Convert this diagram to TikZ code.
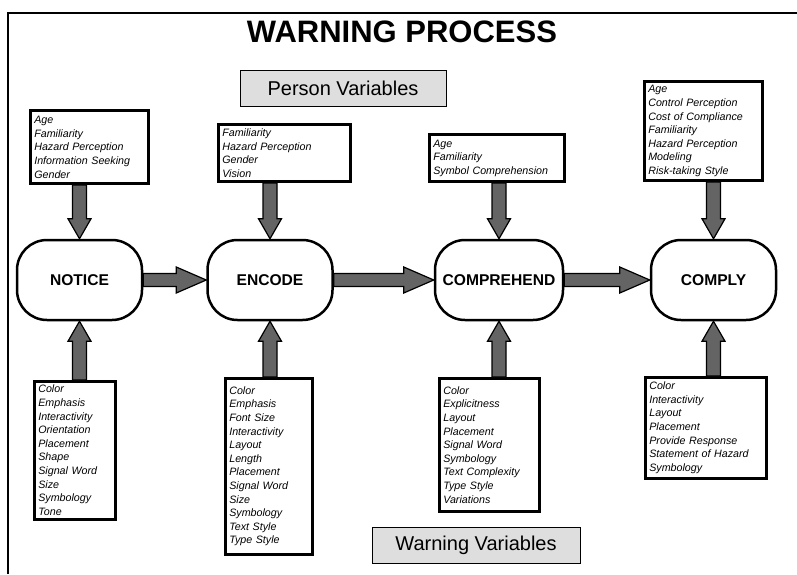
\documentclass[tikz,border=0pt]{standalone}
\usepackage{fontspec}
\setmainfont{Liberation Sans}
\usepackage{xcolor}
\usetikzlibrary{calc}

\definecolor{arrowgray}{RGB}{100,100,100}
\definecolor{labelgray}{RGB}{222,222,222}

\tikzset{
  stage/.style={draw, line width=2.5pt, fill=white, rounded corners=30pt,
    minimum width=125pt, minimum height=80pt,
    font=\bfseries\fontsize{15.6}{18}\selectfont},
  varbox/.style={draw, line width=2.6pt, fill=white, align=left,
    inner xsep=4pt, inner ysep=2pt,
    font=\itshape\fontsize{10.7}{13.6}\selectfont},
  labelbox/.style={draw, line width=0.6pt, fill=labelgray,
    minimum height=36pt, font=\fontsize{20}{24}\selectfont},
  blockarrow/.style n args={3}{draw, line width=1.2pt, fill=arrowgray,
    line join=miter,
    to path={
      (\tikztostart) coordinate (ba-s)
      (\tikztotarget) coordinate (ba-t)
      ($(ba-t)!#3!(ba-s)$) coordinate (ba-h)
      ($(ba-s)!#1!90:(ba-t)$) -- ($(ba-h)!#1!90:(ba-t)$)
        -- ($(ba-h)!#2!90:(ba-t)$) -- (ba-t)
        -- ($(ba-h)!#2!-90:(ba-t)$) -- ($(ba-h)!#1!-90:(ba-t)$)
        -- ($(ba-s)!#1!-90:(ba-t)$) -- cycle}},
  harrow/.style={blockarrow={6.5pt}{13pt}{30pt}},
  varrow/.style={blockarrow={7pt}{11.5pt}{20pt}},
}

\begin{document}
\begin{tikzpicture}[x=1pt, y=-1pt]
  \useasboundingbox (0,0) rectangle (797,574);

  % Frame and title
  \draw[line width=1.5pt] (8,574) -- (8,13) -- (797,13);
  \node[font=\bfseries\fontsize{31}{36}\selectfont] (title) at (402,32)
    {WARNING PROCESS};

  \node[labelbox, minimum width=206pt] (person) at (343,88) {Person Variables};
  \node[labelbox, minimum width=208pt] (warning) at (476,545.5) {Warning Variables};

  % Stages
  \node[stage] (notice) at (79.5,280) {NOTICE};
  \node[stage] (encode) at (270,280) {ENCODE};
  \node[stage, minimum width=128pt] (comprehend) at (499,280) {COMPREHEND};
  \node[stage] (comply) at (713.5,280) {COMPLY};

  % Person variables
  \node[varbox, anchor=south west, text width=110pt, minimum height=73pt]
    (pnotice) at (29,185)
    {Age\\Familiarity\\Hazard Perception\\Information Seeking\\Gender};
  \node[varbox, anchor=south west, text width=124pt, minimum height=57pt]
    (pencode) at (217,183)
    {Familiarity\\Hazard Perception\\Gender\\Vision};
  \node[varbox, anchor=south west, text width=127pt, minimum height=47pt]
    (pcomprehend) at (428,183)
    {Age\\Familiarity\\Symbol Comprehension};
  \node[varbox, anchor=south west, text width=110pt, minimum height=99pt]
    (pcomply) at (643,182)
    {Age\\Control Perception\\Cost of Compliance\\Familiarity\\Hazard Perception\\Modeling\\Risk-taking Style};

  % Warning variables
  \node[varbox, anchor=north west, text width=73pt, minimum height=138pt]
    (wnotice) at (33,380)
    {Color\\Emphasis\\Interactivity\\Orientation\\Placement\\Shape\\Signal Word\\Size\\Symbology\\Tone};
  \node[varbox, anchor=north west, text width=79pt, minimum height=176pt]
    (wencode) at (224,377)
    {Color\\Emphasis\\Font Size\\Interactivity\\Layout\\Length\\Placement\\Signal Word\\Size\\Symbology\\Text Style\\Type Style};
  \node[varbox, anchor=north west, text width=92pt, minimum height=133pt]
    (wcomprehend) at (438,377)
    {Color\\Explicitness\\Layout\\Placement\\Signal Word\\Symbology\\Text Complexity\\Type Style\\Variations};
  \node[varbox, anchor=north west, text width=113pt, minimum height=101pt]
    (wcomply) at (644,376)
    {Color\\Interactivity\\Layout\\Placement\\Provide Response\\Statement of Hazard\\Symbology};

  % Process arrows
  \draw[harrow] (notice.east) to (encode.west);
  \draw[harrow] (encode.east) to (comprehend.west);
  \draw[harrow] (comprehend.east) to (comply.west);

  % Variable arrows
  \draw[varrow] (pnotice.south -| notice.north) to (notice.north);
  \draw[varrow] (pencode.south -| encode.north) to (encode.north);
  \draw[varrow] (pcomprehend.south -| comprehend.north) to (comprehend.north);
  \draw[varrow] (pcomply.south -| comply.north) to (comply.north);
  \draw[varrow] (wnotice.north -| notice.south) to (notice.south);
  \draw[varrow] (wencode.north -| encode.south) to (encode.south);
  \draw[varrow] (wcomprehend.north -| comprehend.south) to (comprehend.south);
  \draw[varrow] (wcomply.north -| comply.south) to (comply.south);
\end{tikzpicture}
\end{document}
